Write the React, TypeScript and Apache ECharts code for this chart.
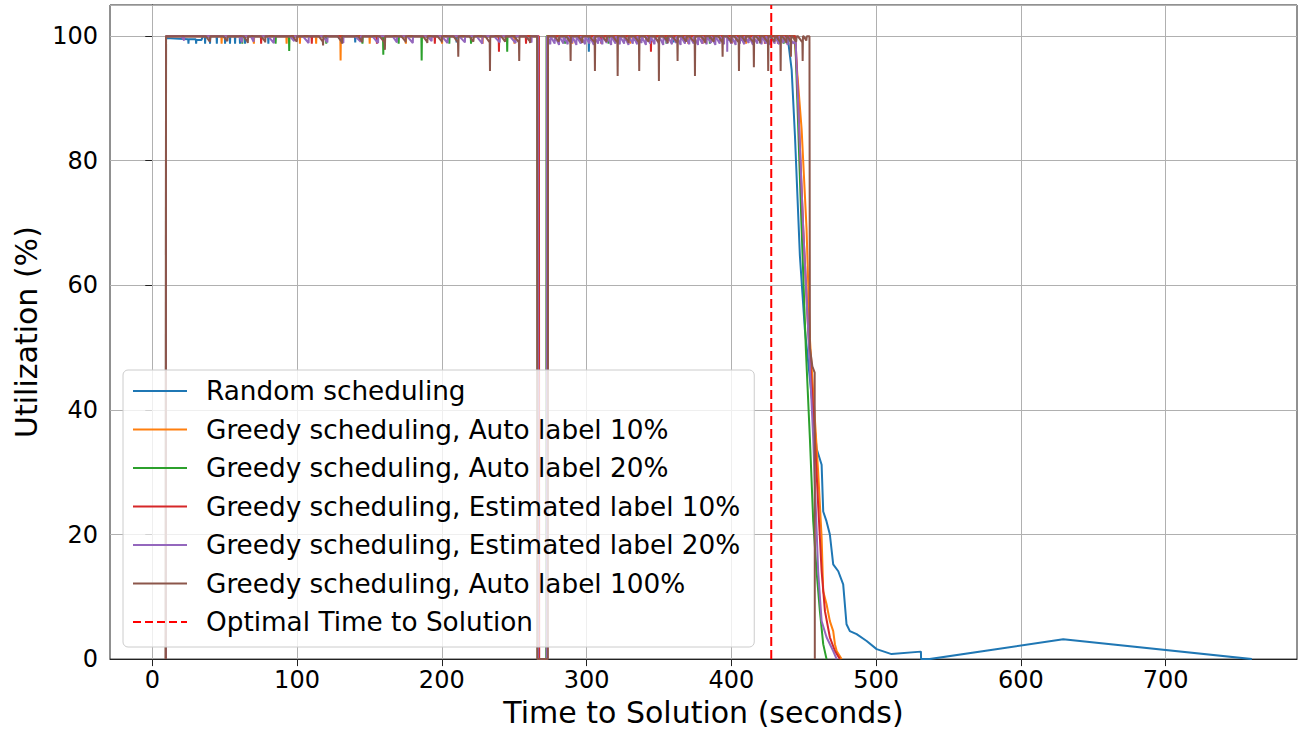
import React, { useEffect, useRef } from "react";
import * as echarts from "echarts";

const X_TICKS = [0, 100, 200, 300, 400, 500, 600, 700];
const X_MIN = -29.2;
const X_MAX = 790.8;
const Y_MIN = 0;
const Y_MAX = 105;
const Y_INTERVAL = 20;
const OPTIMAL_TIME = 427.6;

const SERIES_NAMES = [
  "Random scheduling",
  "Greedy scheduling, Auto label 10%",
  "Greedy scheduling, Auto label 20%",
  "Greedy scheduling, Estimated label 10%",
  "Greedy scheduling, Estimated label 20%",
  "Greedy scheduling, Auto label 100%",
];
const OPTIMAL_NAME = "Optimal Time to Solution";
const COLORS = ["#1f77b4", "#ff7f0e", "#2ca02c", "#d62728", "#9467bd", "#8c564b"];

const randomData = [
  [9.4, 0], [9.5, 99.7], [24.8, 99.5], [25, 98.8], [25.2, 99.5], [30.1, 99.5], [30.3, 98.8], [30.5, 99.4],
  [34, 99.4], [35, 100], [36.3, 100], [36.5, 98.8], [36.7, 100], [39.7, 100], [39.9, 98.8], [40.1, 100],
  [44.4, 100], [44.6, 98.8], [44.8, 100], [50.1, 100], [50.3, 98.8], [50.5, 100], [53.5, 100], [53.7, 98.8],
  [53.9, 100], [57, 100], [57.2, 98.8], [57.4, 100], [60.4, 100], [60.6, 98.8], [60.8, 100], [63.9, 100],
  [64.1, 98.8], [64.3, 100], [80, 100], [80.2, 98.8], [80.4, 100], [140, 100], [140.2, 99], [140.4, 100],
  [210, 100], [210.2, 99], [210.4, 100], [266.4, 100], [266.6, 0], [272.6, 0], [272.8, 100], [301.4, 100],
  [301.6, 97.5], [301.8, 100], [360, 100], [360.2, 99], [360.4, 100], [439, 100], [439.4, 99], [441.7, 94.6],
  [444, 83.9], [447.4, 64.7], [450.8, 53], [456.6, 39.7], [458.9, 33.8], [462.4, 31.2], [463.5, 23.7],
  [465.8, 22.1], [468.1, 20], [470.4, 15.2], [473.9, 14.1], [477.3, 12], [479.6, 5.6], [481.9, 4.5],
  [486.6, 4], [493.5, 2.9], [500.4, 1.6], [510.7, 0.8], [531, 1.2], [531.1, 0], [537, 0], [629.3, 3.2],
  [759.6, 0],
];

const autoLabel10Data = [
  [9.4, 0], [9.5, 100], [47.7, 100], [47.9, 98.8], [48.1, 100], [70, 100], [70.2, 98.8], [70.4, 100],
  [92.6, 100], [92.8, 98.8], [93, 100], [101.8, 100], [102, 98.8], [102.2, 100], [113, 100], [113.2, 98.8],
  [113.4, 100], [129.9, 100], [130.1, 96.1], [130.3, 100], [150, 100], [150.2, 98.8], [150.4, 100],
  [175, 100], [175.2, 98.8], [175.4, 100], [200, 100], [200.2, 98.8], [200.4, 100], [228, 100],
  [228.2, 98.8], [228.4, 100], [250, 100], [250.2, 98.8], [250.4, 100], [266.6, 100], [266.8, 0],
  [272.4, 0], [272.6, 100], [290, 100], [290.2, 98.8], [290.4, 100], [330, 100], [330.2, 98.8],
  [330.4, 100], [370, 100], [370.2, 98.8], [370.4, 100], [410, 100], [410.2, 98.8], [410.4, 100],
  [443.6, 100], [443.8, 99.9], [448.6, 85], [452, 69], [454.3, 51.4], [460, 30.1], [462.4, 19.5],
  [463.5, 10.9], [465.8, 8.8], [468.1, 6.1], [470.4, 4.5], [471.6, 2.4], [472.8, 1.3], [476.2, 0],
];

const autoLabel20Data = [
  [9.4, 0], [9.5, 100], [62, 100], [62.2, 98.8], [62.4, 100], [85, 100], [85.2, 98.8], [85.4, 100],
  [94.4, 100], [94.6, 97.6], [94.8, 100], [120, 100], [120.2, 98.8], [120.4, 100], [145, 100],
  [145.2, 98.8], [145.4, 100], [159.4, 100], [159.6, 97], [159.8, 100], [170, 100], [170.2, 98.8],
  [170.4, 100], [185.9, 100], [186.1, 96.1], [186.3, 100], [205, 100], [205.2, 98.8], [205.4, 100],
  [220, 100], [220.2, 98.8], [220.4, 100], [245, 100], [245.2, 97.5], [245.4, 100], [266, 100],
  [266.2, 0], [272.2, 0], [272.4, 100], [285, 100], [285.2, 98.8], [285.4, 100], [315, 100],
  [315.2, 98.8], [315.4, 100], [355, 100], [355.2, 98.8], [355.4, 100], [385, 100], [385.2, 98.8],
  [385.4, 100], [420, 100], [420.2, 98.8], [420.4, 100], [436, 100], [436.2, 98.8], [436.4, 100],
  [444, 100], [444.2, 99.4], [448.6, 69], [451.5, 49.8], [454.3, 35.4], [456.6, 22.1], [458.9, 14.1],
  [461.2, 7.7], [463.5, 2.4], [465.8, 0],
];

const estLabel10Data = [
  [9.4, 0], [9.5, 100], [75, 100], [75.2, 98.8], [75.4, 100], [110, 100], [110.2, 98.8], [110.4, 100],
  [155, 100], [155.2, 98.8], [155.4, 100], [195, 100], [195.2, 98.8], [195.4, 100], [239.3, 100],
  [239.5, 97.5], [239.7, 100], [258, 100], [258.2, 98.8], [258.4, 100], [267.1, 100], [267.3, 0],
  [272.9, 0], [273.1, 100], [310, 100], [310.2, 98.8], [310.4, 100], [344.3, 100], [344.5, 97.5],
  [344.7, 100], [380, 100], [380.2, 98.8], [380.4, 100], [400, 100], [400.2, 98.8], [400.4, 100],
  [423, 100], [423.2, 98.8], [423.4, 100], [432, 100], [432.2, 98.8], [432.4, 100], [444.3, 100],
  [444.5, 99.9], [449.7, 69], [453.1, 53], [457.8, 35.4], [460, 24.8], [462.4, 14.1], [464.7, 7.7],
  [468.1, 3.5], [471.6, 1.3], [475, 0],
];

const estLabel20Data = [
  [9.4, 0], [9.5, 100], [20, 100], [22, 99.3], [22.1, 100], [60, 100], [62, 99], [62.1, 100], [68, 100],
  [70, 99.1], [70.1, 100], [80, 100], [84, 98.9], [84.1, 100], [95, 100], [98, 99.2], [98.1, 100],
  [104, 100], [108, 98.9], [108.1, 100], [118, 100], [121, 99], [121.1, 100], [128, 100], [132, 98.9],
  [132.1, 100], [140, 100], [144, 99.1], [144.1, 100], [152, 100], [156, 98.9], [156.1, 100], [166, 100],
  [169, 99], [169.1, 100], [176, 100], [180, 98.9], [180.1, 100], [190, 100], [193, 99.2], [193.1, 100],
  [200, 100], [204, 98.9], [204.1, 100], [212, 100], [216, 99], [216.1, 100], [224, 100], [228, 98.8],
  [228.1, 100], [236, 100], [240, 99], [240.1, 100], [247, 100], [251, 98.9], [251.1, 100], [258, 100],
  [262, 99], [262.1, 100], [266.4, 100], [266.5, 0], [272.5, 0], [272.6, 100],
  [275, 98.7], [275.1, 100], [278, 98.8], [278.1, 100], [281, 98.6], [281.1, 100], [284, 98.8], [284.1, 100],
  [287, 98.7], [287.1, 100], [290, 98.9], [290.1, 100], [293, 98.6], [293.1, 100], [296, 98.8], [296.1, 100],
  [299, 98.7], [299.1, 100], [302, 98.8], [302.1, 100], [305, 98.6], [305.1, 100], [308, 98.8], [308.1, 100],
  [311, 98.7], [311.1, 100], [314, 98.9], [314.1, 100], [317, 98.6], [317.1, 100], [320, 98.8], [320.1, 100],
  [323, 98.7], [323.1, 100], [326, 98.8], [326.1, 100], [329, 98.6], [329.1, 100], [332, 98.8], [332.1, 100],
  [335, 98.7], [335.1, 100], [338, 98.9], [338.1, 100], [341, 98.6], [341.1, 100], [344, 98.8], [344.1, 100],
  [347, 98.7], [347.1, 100], [350, 98.8], [350.1, 100], [353, 98.6], [353.1, 100], [356, 98.8], [356.1, 100],
  [359, 98.7], [359.1, 100], [362, 98.9], [362.1, 100], [365, 98.6], [365.1, 100], [368, 98.8], [368.1, 100],
  [371, 98.7], [371.1, 100], [374, 98.8], [374.1, 100], [377, 98.6], [377.1, 100], [380, 98.8], [380.1, 100],
  [383, 98.7], [383.1, 100], [386, 98.9], [386.1, 100], [389, 98.6], [389.1, 100], [392, 98.8], [392.1, 100],
  [395, 98.7], [395.1, 100], [397.1, 100], [397.2, 97.5], [397.3, 100], [400, 98.8], [400.1, 100],
  [403, 98.6], [403.1, 100], [406, 98.8], [406.1, 100], [409, 98.7], [409.1, 100], [412, 98.9], [412.1, 100],
  [415, 98.6], [415.1, 100], [418, 98.8], [418.1, 100], [421, 98.7], [421.1, 100], [424, 98.8], [424.1, 100],
  [427, 98.6], [427.1, 100], [430, 98.8], [430.1, 100], [433, 98.7], [433.1, 100], [436, 98.9], [436.1, 100],
  [439, 98.6], [439.1, 100], [443, 98.8], [444.4, 99.5], [449.7, 69], [453.1, 53], [456.6, 35.4],
  [460, 14.1], [462.4, 6.1], [465.8, 3.5], [470.4, 1.3], [472.8, 0],
];

const autoLabel100Data = [
  [9.4, 0], [9.5, 100],
  [37, 100], [39.8, 99.1], [40, 99], [40.2, 100],
  [49, 100], [51.8, 99.2], [52, 99.1], [52.2, 100],
  [63, 100], [65.8, 99.1], [66, 98.9], [66.2, 100],
  [75, 100], [77.8, 99.2], [78, 99], [78.2, 100],
  [97, 100], [99.8, 99.1], [100, 99], [100.2, 100],
  [115, 100], [117.8, 99.1], [118, 98.5], [118.2, 100],
  [128, 100], [130.8, 99.1], [131, 98.8], [131.2, 100],
  [142, 100], [144.8, 99.2], [145, 99], [145.2, 100],
  [157, 100], [160.4, 99], [160.7, 97.8], [160.9, 100],
  [172, 100], [174.8, 99.2], [175, 99], [175.2, 100],
  [187, 100], [189.8, 99.1], [190, 98.9], [190.2, 100],
  [197, 100], [199.8, 99.2], [200, 99], [200.2, 100],
  [208, 100], [211.2, 99], [211.4, 96.7], [211.6, 100],
  [219, 100], [221.8, 99.1], [222, 99], [222.2, 100],
  [230, 100], [233.1, 99], [233.3, 94.4], [233.5, 100],
  [241, 100], [243.8, 99.1], [244, 99], [244.2, 100],
  [250, 100], [253.3, 99], [253.5, 96], [253.7, 100],
  [258, 100], [260.8, 99.2], [261, 98.9], [261.2, 100],
  [265.9, 100], [266, 0], [273.3, 0], [273.4, 100],
  [278, 100], [280.8, 99.1], [281, 99], [281.2, 100],
  [286, 100], [288.8, 99], [289, 96], [289.2, 100],
  [294, 100], [296.8, 99.2], [297, 98.9], [297.2, 100],
  [302, 100], [305.6, 99], [305.8, 94.4], [306, 100],
  [311, 100], [313.8, 99.1], [314, 99], [314.2, 100],
  [318, 100], [321.3, 99], [321.5, 93.6], [321.7, 100],
  [326, 100], [328.8, 99.2], [329, 98.9], [329.2, 100],
  [333, 100], [336.2, 99], [336.4, 94.4], [336.6, 100],
  [340, 100], [342.8, 99.1], [343, 99], [343.2, 100],
  [347, 100], [349.8, 99], [350, 92.8], [350.2, 100],
  [353, 100], [355.8, 99.2], [356, 98.9], [356.2, 100],
  [359, 100], [362.7, 99], [362.9, 96], [363.1, 100],
  [366, 100], [368.8, 99.1], [369, 99], [369.2, 100],
  [371, 100], [374.7, 99], [374.9, 93.6], [375.1, 100],
  [379, 100], [381.8, 99.2], [382, 98.9], [382.2, 100],
  [385, 100], [387.8, 99.1], [388, 99], [388.2, 100],
  [391, 100], [393.8, 99], [394, 96.7], [394.2, 100],
  [397, 100], [399.8, 99.2], [400, 98.9], [400.2, 100],
  [402, 100], [405.1, 99], [405.3, 94.4], [405.5, 100],
  [407, 100], [409.8, 99.1], [410, 99], [410.2, 100],
  [412, 100], [415.4, 99], [415.6, 95], [415.8, 100],
  [417, 100], [419.8, 99.2], [420, 98.9], [420.2, 100],
  [422, 100], [425.3, 99], [425.5, 94.4], [425.7, 100],
  [427, 100], [429.8, 99.1], [430, 99], [430.2, 100],
  [431, 100], [433.9, 99], [434.1, 94.4], [434.3, 100],
  [435, 100], [437.8, 99.2], [438, 98.9], [438.2, 100],
  [439, 100], [441, 99], [441.2, 96.7], [441.4, 100],
  [442, 100], [444.8, 99.1], [445, 99], [445.2, 100],
  [446, 100], [449.1, 99], [449.3, 96], [449.5, 100],
  [450, 100], [451.8, 99.3], [452, 99.2], [452.2, 100],
  [454, 100], [454.3, 50], [456, 47], [457.6, 46], [457.7, 0],
];

const SERIES_DATA = [
  randomData,
  autoLabel10Data,
  autoLabel20Data,
  estLabel10Data,
  estLabel20Data,
  autoLabel100Data,
];

const FONT = "DejaVu Sans";
const SOLID_ICON = "path://M0,0L54,0L54,2L0,2Z";
const DASHED_ICON =
  "path://M0,0L8,0L8,2L0,2Z M12,0L20,0L20,2L12,2Z M24,0L32,0L32,2L24,2Z M36,0L44,0L44,2L36,2Z M48,0L54,0L54,2L48,2Z";

export default function App() {
  const ref = useRef<HTMLDivElement>(null);

  useEffect(() => {
    if (!ref.current) return;
    const chart = echarts.init(ref.current, null, { renderer: "svg" });

    const lineSeries = SERIES_NAMES.map((name, i) => ({
      name,
      type: "line",
      data: SERIES_DATA[i],
      symbol: "none",
      showSymbol: false,
      color: COLORS[i],
      lineStyle: { color: COLORS[i], width: 2 },
      itemStyle: { color: COLORS[i] },
      emphasis: { disabled: true },
      silent: true,
      z: 2,
    }));

    const legendData = [
      ...SERIES_NAMES.map((name, i) => ({
        name,
        icon: SOLID_ICON,
        itemStyle: { color: COLORS[i], borderWidth: 0 },
      })),
      { name: OPTIMAL_NAME, icon: DASHED_ICON, itemStyle: { color: "#ff0000", borderWidth: 0 } },
    ];

    chart.setOption({
      animation: false,
      backgroundColor: "#ffffff",
      grid: {
        left: 110,
        right: 3,
        top: 5,
        bottom: 61,
        show: true,
        borderColor: "#222222",
        borderWidth: 1,
        backgroundColor: "transparent",
      },
      legend: {
        data: legendData,
        orient: "vertical",
        left: 123,
        top: 370,
        padding: [6, 14, 10, 10],
        itemWidth: 54,
        itemHeight: 2,
        itemGap: 8.5,
        backgroundColor: "rgba(255,255,255,0.8)",
        borderColor: "#cccccc",
        borderWidth: 1,
        borderRadius: 5,
        selectedMode: false,
        textStyle: {
          fontFamily: FONT,
          fontSize: 26.3,
          color: "#000000",
          lineHeight: 30,
          padding: [0, 0, 0, 14],
        },
        z: 10,
      },
      xAxis: {
        type: "value",
        min: X_MIN,
        max: X_MAX,
        name: "Time to Solution (seconds)",
        nameLocation: "middle",
        nameGap: 35,
        nameTextStyle: { fontFamily: FONT, fontSize: 30, color: "#000000" },
        axisLine: { show: true, onZero: false, lineStyle: { color: "#222222", width: 1 } },
        axisTick: { show: true, length: 7, customValues: X_TICKS, lineStyle: { color: "#222222" } },
        axisLabel: {
          customValues: X_TICKS,
          fontFamily: FONT,
          fontSize: 24,
          color: "#000000",
          margin: 9,
        },
        splitLine: { show: false },
      },
      yAxis: {
        type: "value",
        min: Y_MIN,
        max: Y_MAX,
        interval: Y_INTERVAL,
        name: "Utilization (%)",
        nameLocation: "middle",
        nameGap: 62,
        nameTextStyle: { fontFamily: FONT, fontSize: 30, color: "#000000" },
        axisLine: { show: true, lineStyle: { color: "#222222", width: 1 } },
        axisTick: { show: true, length: 7, lineStyle: { color: "#222222" } },
        axisLabel: {
          fontFamily: FONT,
          fontSize: 24,
          color: "#000000",
          margin: 12,
          showMaxLabel: false,
        },
        splitLine: { show: true, lineStyle: { color: "#b0b0b0", width: 1 } },
      },
      series: [
        {
          name: "__vgrid",
          type: "line",
          data: [],
          silent: true,
          z: 1,
          markLine: {
            silent: true,
            symbol: ["none", "none"],
            z: 1,
            label: { show: false },
            lineStyle: { color: "#b0b0b0", width: 1, type: "solid" },
            emphasis: { disabled: true },
            data: X_TICKS.map((v) => ({ xAxis: v })),
          },
        },
        ...lineSeries,
        {
          name: OPTIMAL_NAME,
          type: "line",
          data: [
            [OPTIMAL_TIME, Y_MIN],
            [OPTIMAL_TIME, Y_MAX],
          ],
          symbol: "none",
          showSymbol: false,
          color: "#ff0000",
          lineStyle: { color: "#ff0000", width: 2, type: [9, 4] },
          itemStyle: { color: "#ff0000" },
          emphasis: { disabled: true },
          silent: true,
          z: 3,
        },
      ],
    });

    return () => chart.dispose();
  }, []);

  return (
    <div
      ref={ref}
      style={{ position: "fixed", left: 0, top: 0, width: 1300, height: 732, background: "#ffffff" }}
    />
  );
}
